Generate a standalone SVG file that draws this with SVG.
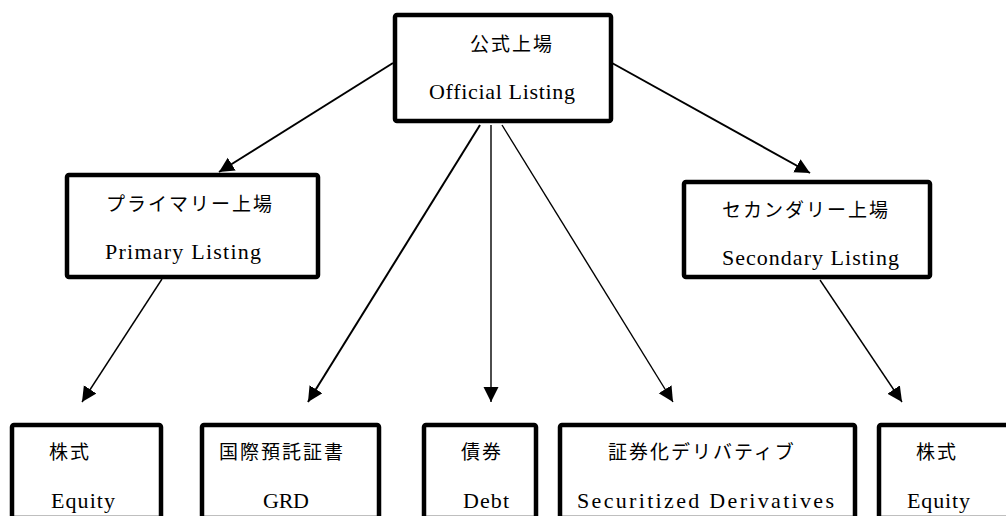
<svg xmlns="http://www.w3.org/2000/svg" width="1006" height="516" viewBox="0 0 1006 516">
<style>
.box{fill:#fff;stroke:#000;stroke-width:4.5}
.jp{font-family:"Noto Sans CJK JP","Noto Sans",sans-serif;font-size:19px;letter-spacing:2px;fill:#000}
.en{font-family:"Liberation Serif",serif;font-size:22px;fill:#000}
.c{stroke:#000;fill:none;marker-end:url(#ah)}
.t{stroke-width:2}
.n{stroke-width:1.4}
</style>
<defs>
<marker id="ah" markerUnits="userSpaceOnUse" markerWidth="16" markerHeight="16" refX="15" refY="7.5" orient="auto">
<path d="M0,0 L15,7.5 L0,15 z" fill="#000"/>
</marker>
</defs>
<g id="connectors">
<line class="c t" x1="393" y1="63" x2="219" y2="172"/>
<line class="c t" x1="612" y1="63" x2="810" y2="173"/>
<line class="c t" x1="480" y1="125" x2="308" y2="402"/>
<line class="c n" x1="491" y1="125" x2="491" y2="402"/>
<line class="c n" x1="502" y1="125" x2="673" y2="402"/>
<line class="c n" x1="162" y1="279" x2="82" y2="402"/>
<line class="c n" x1="820" y1="280" x2="902" y2="402"/>
</g>
<g id="official">
<rect class="box" x="395" y="15" width="216" height="106" rx="2"/>
<text class="jp" x="470" y="51">公式上場</text>
<text class="en" x="429" y="99" textLength="146" lengthAdjust="spacing">Official Listing</text>
</g>
<g id="primary">
<rect class="box" x="67" y="175" width="251" height="102" rx="2"/>
<text class="jp" x="106" y="211">プライマリー上場</text>
<text class="en" x="105" y="259" textLength="156" lengthAdjust="spacing">Primary Listing</text>
</g>
<g id="secondary">
<rect class="box" x="684" y="182" width="246" height="95" rx="2"/>
<text class="jp" x="722" y="217">セカンダリー上場</text>
<text class="en" x="722" y="265" textLength="177" lengthAdjust="spacing">Secondary Listing</text>
</g>
<g id="equity1">
<rect class="box" x="12" y="425" width="149" height="93" rx="2"/>
<text class="jp" x="49" y="459">株式</text>
<text class="en" x="51" y="508" textLength="64" lengthAdjust="spacing">Equity</text>
</g>
<g id="grd">
<rect class="box" x="202" y="425" width="177" height="93" rx="2"/>
<text class="jp" x="219" y="459">国際預託証書</text>
<text class="en" x="263" y="508" textLength="46" lengthAdjust="spacing">GRD</text>
</g>
<g id="debt">
<rect class="box" x="424" y="425" width="112" height="93" rx="2"/>
<text class="jp" x="461" y="459">債券</text>
<text class="en" x="463" y="508" textLength="46" lengthAdjust="spacing">Debt</text>
</g>
<g id="securitized">
<rect class="box" x="560" y="425" width="295" height="93" rx="2"/>
<text class="jp" x="608" y="459">証券化デリバティブ</text>
<text class="en" x="577" y="508" textLength="257" lengthAdjust="spacing">Securitized Derivatives</text>
</g>
<g id="equity2">
<rect class="box" x="879" y="425" width="150" height="93" rx="2"/>
<text class="jp" x="916" y="459">株式</text>
<text class="en" x="907" y="508" textLength="63" lengthAdjust="spacing">Equity</text>
</g>
</svg>
